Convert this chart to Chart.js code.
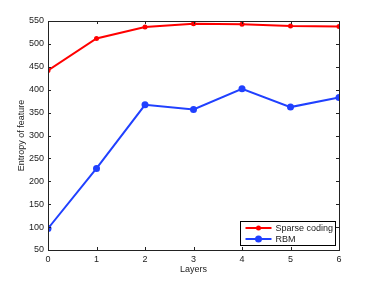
<!DOCTYPE html>
<html>
<head>
<meta charset="utf-8">
<script src="https://cdn.jsdelivr.net/npm/chart.js@4"></script>
<style>
  html, body { margin: 0; padding: 0; background: #fff; }
  #wrap { width: 374px; height: 281px; }
</style>
</head>
<body>
<div id="wrap"><canvas id="chart" width="374" height="281"></canvas></div>
<script>
// data
const layers = [0, 1, 2, 3, 4, 5, 6];
const sparseCoding = [442, 512, 537, 544, 543, 539, 538];
const rbm = [97, 228, 367, 357, 402, 362, 383];
const yTicks = [50, 100, 150, 200, 250, 300, 350, 400, 450, 500, 550];

const FONT = "'Liberation Sans', Arial, sans-serif";

// matlab-style box, inward ticks and legend inside the axes
const matlabAxes = {
  id: 'matlabAxes',
  afterDraw(chart) {
    const { ctx, chartArea: a, scales } = chart;
    ctx.save();
    ctx.strokeStyle = '#222';
    ctx.lineWidth = 1;
    ctx.strokeRect(a.left + 0.5, a.top + 0.5, a.right - a.left, a.bottom - a.top);

    const len = 3;
    ctx.beginPath();
    layers.forEach(v => {
      const x = Math.round(scales.x.getPixelForValue(v)) + 0.5;
      ctx.moveTo(x, a.bottom); ctx.lineTo(x, a.bottom - len);
      ctx.moveTo(x, a.top);    ctx.lineTo(x, a.top + len);
    });
    yTicks.forEach(v => {
      const y = Math.round(scales.y.getPixelForValue(v)) + 0.5;
      ctx.moveTo(a.left, y);  ctx.lineTo(a.left + len, y);
      ctx.moveTo(a.right, y); ctx.lineTo(a.right - len, y);
    });
    ctx.stroke();

    // legend
    const bx = 240.5, by = 221.5, bw = 95, bh = 24;
    ctx.fillStyle = '#fff';
    ctx.fillRect(bx, by, bw, bh);
    ctx.strokeStyle = '#000';
    ctx.strokeRect(bx, by, bw, bh);
    ctx.font = '9px ' + FONT;
    ctx.textBaseline = 'middle';
    chart.data.datasets.forEach((ds, i) => {
      const y = by + 6.5 + i * 11;
      ctx.strokeStyle = ds.borderColor;
      ctx.lineWidth = 2;
      ctx.beginPath();
      ctx.moveTo(bx + 5, y); ctx.lineTo(bx + 31, y);
      ctx.stroke();
      ctx.fillStyle = ds.borderColor;
      ctx.beginPath();
      ctx.arc(bx + 18, y, ds.pointRadius, 0, Math.PI * 2);
      ctx.fill();
      ctx.fillStyle = '#222';
      ctx.fillText(ds.label, bx + 35, y + 0.5);
    });
    ctx.restore();
  }
};

new Chart(document.getElementById('chart'), {
  type: 'line',
  data: {
    labels: layers,
    datasets: [
      {
        label: 'Sparse coding',
        data: sparseCoding,
        borderColor: '#ff0000',
        backgroundColor: '#ff0000',
        borderWidth: 2,
        pointRadius: 2.5,
        pointBorderWidth: 0,
        tension: 0
      },
      {
        label: 'RBM',
        data: rbm,
        borderColor: '#2040ff',
        backgroundColor: '#2040ff',
        borderWidth: 2,
        pointRadius: 3.5,
        pointBorderWidth: 0,
        tension: 0
      }
    ]
  },
  options: {
    responsive: false,
    animation: false,
    layout: { padding: { left: 0, right: 35, top: 21, bottom: 0 } },
    plugins: {
      legend: { display: false },
      tooltip: { enabled: false }
    },
    scales: {
      x: {
        type: 'linear',
        min: 0, max: 6,
        afterBuildTicks: s => { s.ticks = layers.map(v => ({ value: v })); },
        afterFit: s => { s.height = 31; },
        grid: { display: false, drawTicks: false },
        border: { display: false },
        ticks: { font: { size: 9, family: FONT }, color: '#222', padding: 4, maxRotation: 0 },
        title: { display: true, text: 'Layers', font: { size: 9, family: FONT }, color: '#222', padding: { top: 0, bottom: 6 } }
      },
      y: {
        min: 50, max: 550,
        afterBuildTicks: s => { s.ticks = yTicks.map(v => ({ value: v })); },
        afterFit: s => { s.width = 48; },
        grid: { display: false, drawTicks: false },
        border: { display: false },
        ticks: { font: { size: 9, family: FONT }, color: '#222', padding: 4 },
        title: { display: true, text: 'Entropy of feature', font: { size: 9, family: FONT }, color: '#222', padding: { top: 16, bottom: 0 } }
      }
    }
  },
  plugins: [matlabAxes]
});
</script>
</body>
</html>
